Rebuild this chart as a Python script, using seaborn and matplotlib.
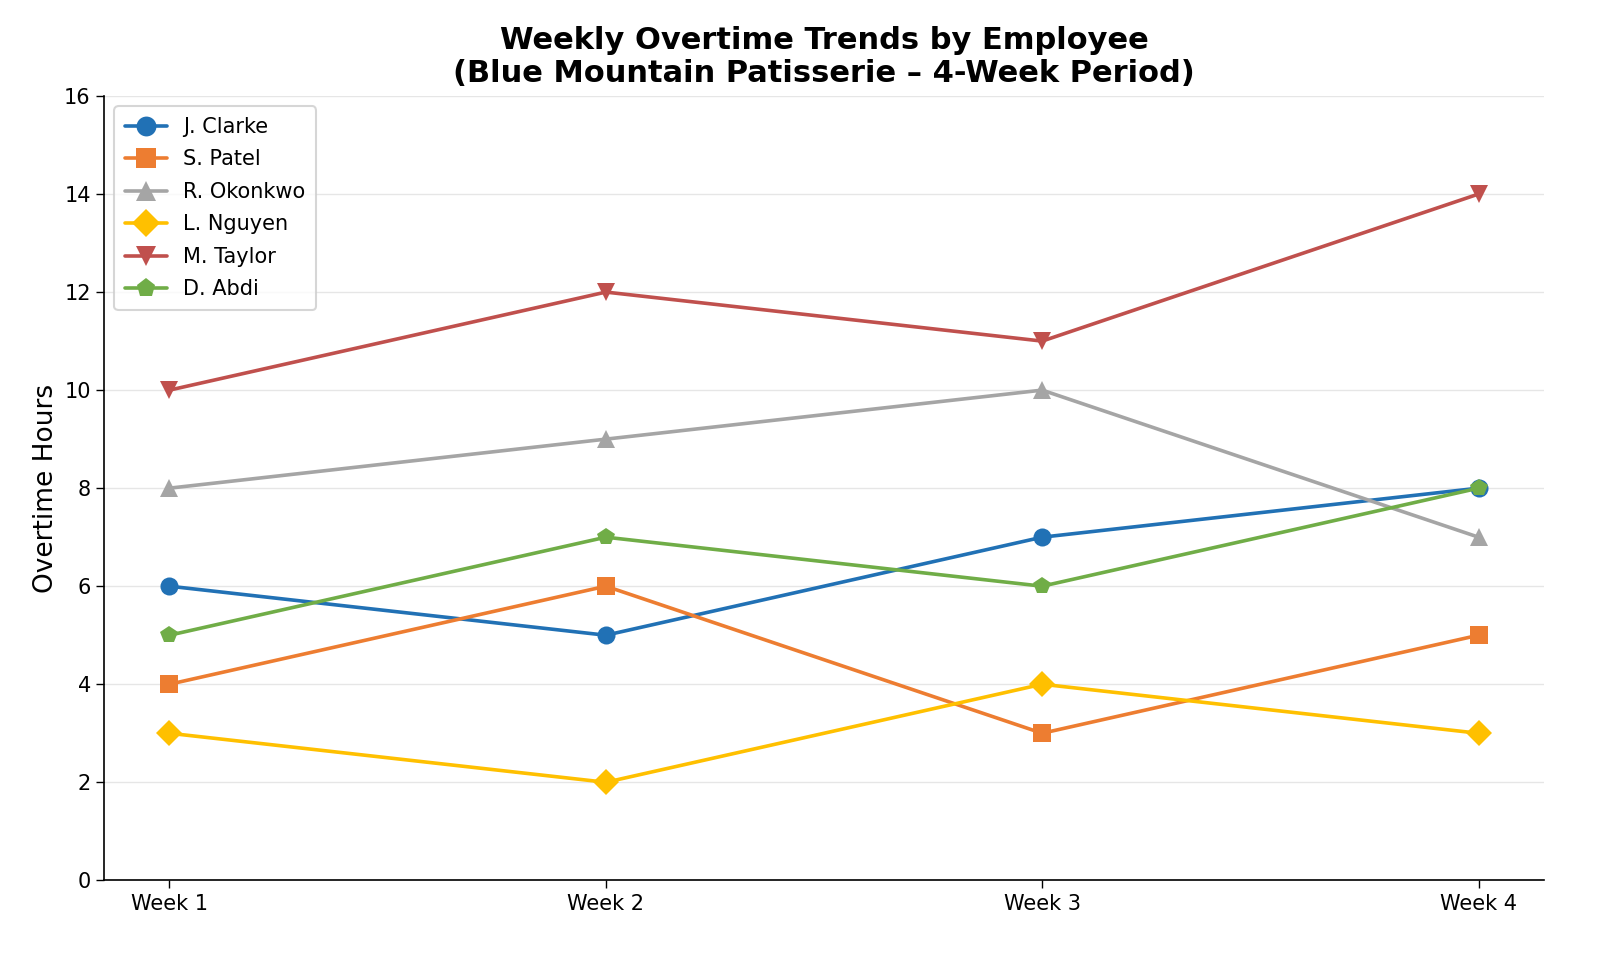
import matplotlib
matplotlib.use("Agg")
import matplotlib.pyplot as plt
import seaborn as sns
import pandas as pd

weeks = ["Week 1", "Week 2", "Week 3", "Week 4"]
employees = ["J. Clarke", "S. Patel", "R. Okonkwo", "L. Nguyen", "M. Taylor", "D. Abdi"]
clarke = [6, 5, 7, 8]
patel = [4, 6, 3, 5]
okonkwo = [8, 9, 10, 7]
nguyen = [3, 2, 4, 3]
taylor = [10, 12, 11, 14]
abdi = [5, 7, 6, 8]
series = [clarke, patel, okonkwo, nguyen, taylor, abdi]
yticks = [0, 2, 4, 6, 8, 10, 12, 14, 16]

colors = ["#2171b5", "#ed7d31", "#a5a5a5", "#ffc000", "#c0504d", "#70ad47"]
markers = ["o", "s", "^", "D", "v", "p"]

rows = []
for name, vals in zip(employees, series):
    for i, (w, v) in enumerate(zip(weeks, vals)):
        rows.append({"Employee": name, "x": i, "Week": w, "Hours": v})
df = pd.DataFrame(rows)

sns.set_theme(style="white")
plt.rcParams['font.family'] = ['DejaVu Sans']
plt.rcParams['text.color'] = 'black'
plt.rcParams['axes.labelcolor'] = 'black'
plt.rcParams['xtick.color'] = 'black'
plt.rcParams['ytick.color'] = 'black'

fig, ax = plt.subplots(figsize=(16, 9.6), dpi=100)
sns.lineplot(data=df, x="x", y="Hours", hue="Employee", style="Employee",
             hue_order=employees, style_order=employees,
             palette=dict(zip(employees, colors)),
             markers=dict(zip(employees, markers)), dashes=False,
             linewidth=2.6, markersize=13, markeredgewidth=0, ax=ax)

ax.set_xticks(range(len(weeks)))
ax.set_xticklabels(weeks, fontsize=15)
ax.set_ylim(0, 16)
ax.set_yticks(yticks)
ax.tick_params(axis="y", labelsize=15)
ax.tick_params(axis="both", which="both", length=6, width=1, color="black", left=True, bottom=True)
ax.set_xlabel("")
ax.set_ylabel("Overtime Hours", fontsize=19)
ax.set_title("Weekly Overtime Trends by Employee\n(Blue Mountain Patisserie \u2013 4-Week Period)",
             fontsize=22, fontweight="bold", pad=10, color="black")
ax.yaxis.grid(True, color="#e6e6e6", linewidth=1)
ax.set_axisbelow(True)
for s in ["top", "right"]:
    ax.spines[s].set_visible(False)
for s in ["left", "bottom"]:
    ax.spines[s].set_color("black")
    ax.spines[s].set_linewidth(1.2)

leg = ax.legend(loc="upper left", fontsize=15, frameon=True, borderpad=0.5,
                labelspacing=0.6, markerscale=1.1)
leg.get_frame().set_edgecolor("#cccccc")
leg.get_frame().set_linewidth(1.5)

fig.subplots_adjust(left=0.065, right=0.965, top=0.9, bottom=0.083)
fig.savefig("out.png", dpi=100)
